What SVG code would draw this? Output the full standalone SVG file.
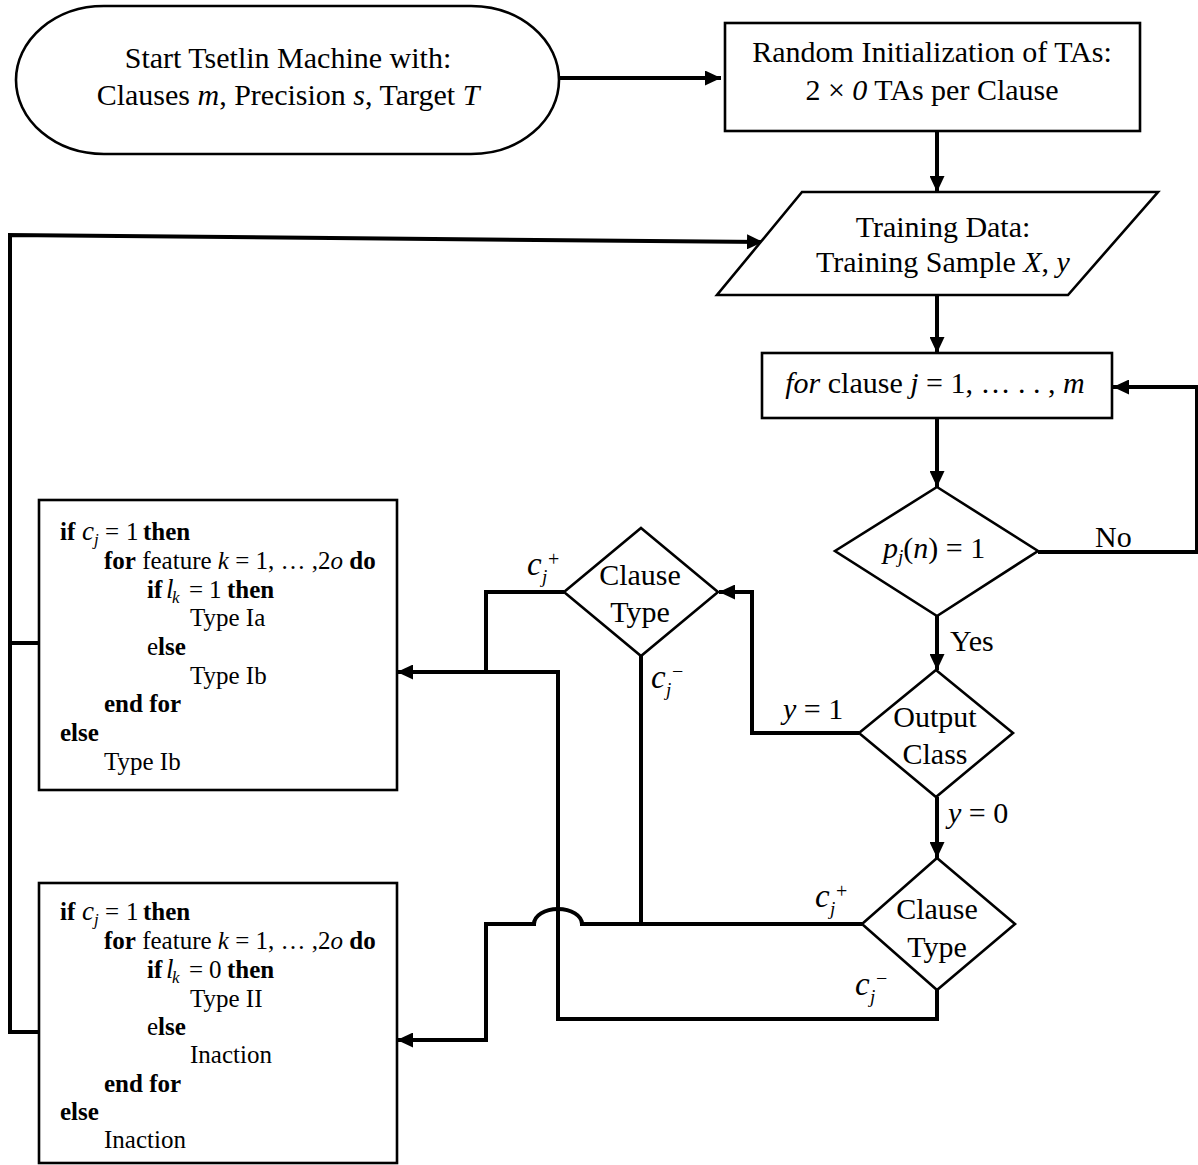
<svg xmlns="http://www.w3.org/2000/svg" width="1198" height="1165" viewBox="0 0 1198 1165">
  <style>
    .shape { fill: #fff; stroke: #000; stroke-width: 2.6; stroke-linejoin: miter; }
    .wire { fill: none; stroke: #000; stroke-width: 4; stroke-linejoin: miter; }
    text { font-family: "Liberation Serif", "Times New Roman", serif; fill: #000; }
    .t { font-size: 30px; }
    .mid { text-anchor: middle; }
    .code { font-size: 25px; }
    .b { font-weight: bold; }
    .i { font-style: italic; }
    .sub { font-size: 19px; font-style: italic; }
    .sup { font-size: 20px; }
    .mc { font-size: 33px; font-style: italic; }
    .cc { font-size: 27px; font-style: italic; }
    .csub { font-size: 17px; font-style: italic; }
  </style>
  <defs>
    <marker id="arrow" markerUnits="userSpaceOnUse" markerWidth="16" markerHeight="15" refX="16" refY="7.5" orient="auto">
      <path d="M0,0 L16,7.5 L0,15 Z" fill="#000"/>
    </marker>
  </defs>

  <!-- connectors -->
  <g id="connectors">
    <path class="wire" d="M559,78 H721" marker-end="url(#arrow)"/>
    <path class="wire" d="M937,131 V192" marker-end="url(#arrow)"/>
    <path class="wire" d="M937,295 V353" marker-end="url(#arrow)"/>
    <path class="wire" d="M937,418 V487" marker-end="url(#arrow)"/>
    <path class="wire" d="M1038,552 H1197 V387 H1113" marker-end="url(#arrow)"/>
    <path class="wire" d="M937,616 V670" marker-end="url(#arrow)"/>
    <path class="wire" d="M859,733 H752 V592 H719" marker-end="url(#arrow)"/>
    <path class="wire" d="M937,797 V858" marker-end="url(#arrow)"/>
    <!-- positive clause, y = 1 : Type I feedback -->
    <path class="wire" d="M564,592 H486 V672 H397" marker-end="url(#arrow)"/>
    <!-- negative clause, y = 0 : Type I feedback -->
    <path class="wire" d="M937,990 V1019 H558 V672 H486"/>
    <!-- negative clause, y = 1 : Type II feedback -->
    <path class="wire" d="M641,656 V924"/>
    <!-- positive clause, y = 0 : Type II feedback, hopping over the vertical -->
    <path class="wire" d="M862,924 H582 A24,15 0 0 0 534,924 H486 V1040 H397" marker-end="url(#arrow)"/>
    <!-- feedback loops back to the training data -->
    <path class="wire" d="M38,1032 H10 V235 L763,242" marker-end="url(#arrow)"/>
    <path class="wire" d="M38,643 H10"/>
  </g>

  <g id="start">
    <rect class="shape" x="16" y="6" width="543" height="148" rx="88" ry="74"/>
    <text class="t mid" x="288" y="68">Start Tsetlin Machine with:</text>
    <text class="t mid" x="288" y="105">Clauses <tspan class="i">m</tspan>, Precision <tspan class="i">s</tspan>, Target <tspan class="i">T</tspan></text>
  </g>

  <g id="init">
    <rect class="shape" x="725" y="23" width="415" height="108"/>
    <text class="t mid" x="932" y="62">Random Initialization of TAs:</text>
    <text class="t mid" x="932" y="100">2 × <tspan class="i">0</tspan> TAs per Clause</text>
  </g>

  <g id="data">
    <polygon class="shape" points="802,192 1158,192 1068,295 717,295"/>
    <text class="t mid" x="943" y="237">Training Data:</text>
    <text class="t mid" x="943" y="272">Training Sample <tspan class="i">X</tspan>, <tspan class="i">y</tspan></text>
  </g>

  <g id="loop">
    <rect class="shape" x="762" y="353" width="350" height="65"/>
    <text class="t mid" x="935" y="393"><tspan class="i">for</tspan> clause <tspan class="i">j</tspan> = 1, … . . , <tspan class="i">m</tspan></text>
  </g>

  <g id="include">
    <polygon class="shape" points="937,487 1038,551 937,616 835,551"/>
    <text class="t" x="883" y="558"><tspan class="i">p</tspan><tspan class="sub" dy="5">j</tspan><tspan dy="-5">(</tspan><tspan class="i">n</tspan>) = 1</text>
    <text class="t" x="1095" y="547">No</text>
    <text class="t" x="950" y="651">Yes</text>
  </g>

  <g id="output-class">
    <polygon class="shape" points="936,670 1013,733 936,797 859,733"/>
    <text class="t mid" x="935" y="727">Output</text>
    <text class="t mid" x="935" y="764">Class</text>
    <text class="t" x="783" y="719"><tspan class="i">y</tspan> = 1</text>
    <text class="t" x="948" y="823"><tspan class="i">y</tspan> = 0</text>
  </g>

  <g id="clause-type-1">
    <polygon class="shape" points="641,528 718,592 641,656 564,592"/>
    <text class="t mid" x="640" y="585">Clause</text>
    <text class="t mid" x="640" y="622">Type</text>
    <text class="t"><tspan class="mc" x="527" y="575">c</tspan><tspan class="sub" x="542" y="583">j</tspan><tspan class="sup" x="548" y="566">+</tspan></text>
    <text class="t"><tspan class="mc" x="651" y="688">c</tspan><tspan class="sub" x="666" y="696">j</tspan><tspan class="sup" x="672" y="678">−</tspan></text>
  </g>

  <g id="clause-type-0">
    <polygon class="shape" points="937,858 1015,924 937,990 862,924"/>
    <text class="t mid" x="937" y="919">Clause</text>
    <text class="t mid" x="937" y="957">Type</text>
    <text class="t"><tspan class="mc" x="815" y="907">c</tspan><tspan class="sub" x="830" y="915">j</tspan><tspan class="sup" x="836" y="898">+</tspan></text>
    <text class="t"><tspan class="mc" x="855" y="995">c</tspan><tspan class="sub" x="870" y="1003">j</tspan><tspan class="sup" x="876" y="985">−</tspan></text>
  </g>

  <g id="type-i-feedback">
    <rect class="shape" x="39" y="500" width="358" height="290"/>
    <text class="code"><tspan class="b" x="60" y="540">if</tspan><tspan class="cc" x="82" y="540">c</tspan><tspan class="csub" x="94" y="545">j</tspan><tspan x="105" y="540">=</tspan><tspan x="126" y="540">1</tspan><tspan class="b" x="143" y="540">then</tspan></text>
    <text class="code" x="104" y="569"><tspan class="b">for</tspan> feature <tspan class="i">k</tspan> = 1, … ,2<tspan class="i">o</tspan> <tspan class="b">do</tspan></text>
    <text class="code"><tspan class="b" x="147" y="598">if</tspan><tspan class="cc" x="166" y="598">l</tspan><tspan class="csub" x="172" y="603">k</tspan><tspan x="189" y="598">=</tspan><tspan x="209" y="598">1</tspan><tspan class="b" x="227" y="598">then</tspan></text>
    <text class="code" x="190" y="626">Type Ia</text>
    <text class="code" x="147" y="655">e<tspan class="b">lse</tspan></text>
    <text class="code" x="190" y="684">Type Ib</text>
    <text class="code b" x="104" y="712">end for</text>
    <text class="code b" x="60" y="741">else</text>
    <text class="code" x="104" y="770">Type Ib</text>
  </g>

  <g id="type-ii-feedback">
    <rect class="shape" x="39" y="883" width="358" height="280"/>
    <text class="code"><tspan class="b" x="60" y="920">if</tspan><tspan class="cc" x="82" y="920">c</tspan><tspan class="csub" x="94" y="925">j</tspan><tspan x="105" y="920">=</tspan><tspan x="126" y="920">1</tspan><tspan class="b" x="143" y="920">then</tspan></text>
    <text class="code" x="104" y="949"><tspan class="b">for</tspan> feature <tspan class="i">k</tspan> = 1, … ,2<tspan class="i">o</tspan> <tspan class="b">do</tspan></text>
    <text class="code"><tspan class="b" x="147" y="978">if</tspan><tspan class="cc" x="166" y="978">l</tspan><tspan class="csub" x="172" y="983">k</tspan><tspan x="189" y="978">=</tspan><tspan x="209" y="978">0</tspan><tspan class="b" x="227" y="978">then</tspan></text>
    <text class="code" x="190" y="1007">Type II</text>
    <text class="code" x="147" y="1035">e<tspan class="b">lse</tspan></text>
    <text class="code" x="190" y="1063">Inaction</text>
    <text class="code b" x="104" y="1092">end for</text>
    <text class="code b" x="60" y="1120">else</text>
    <text class="code" x="104" y="1148">Inaction</text>
  </g>
</svg>
